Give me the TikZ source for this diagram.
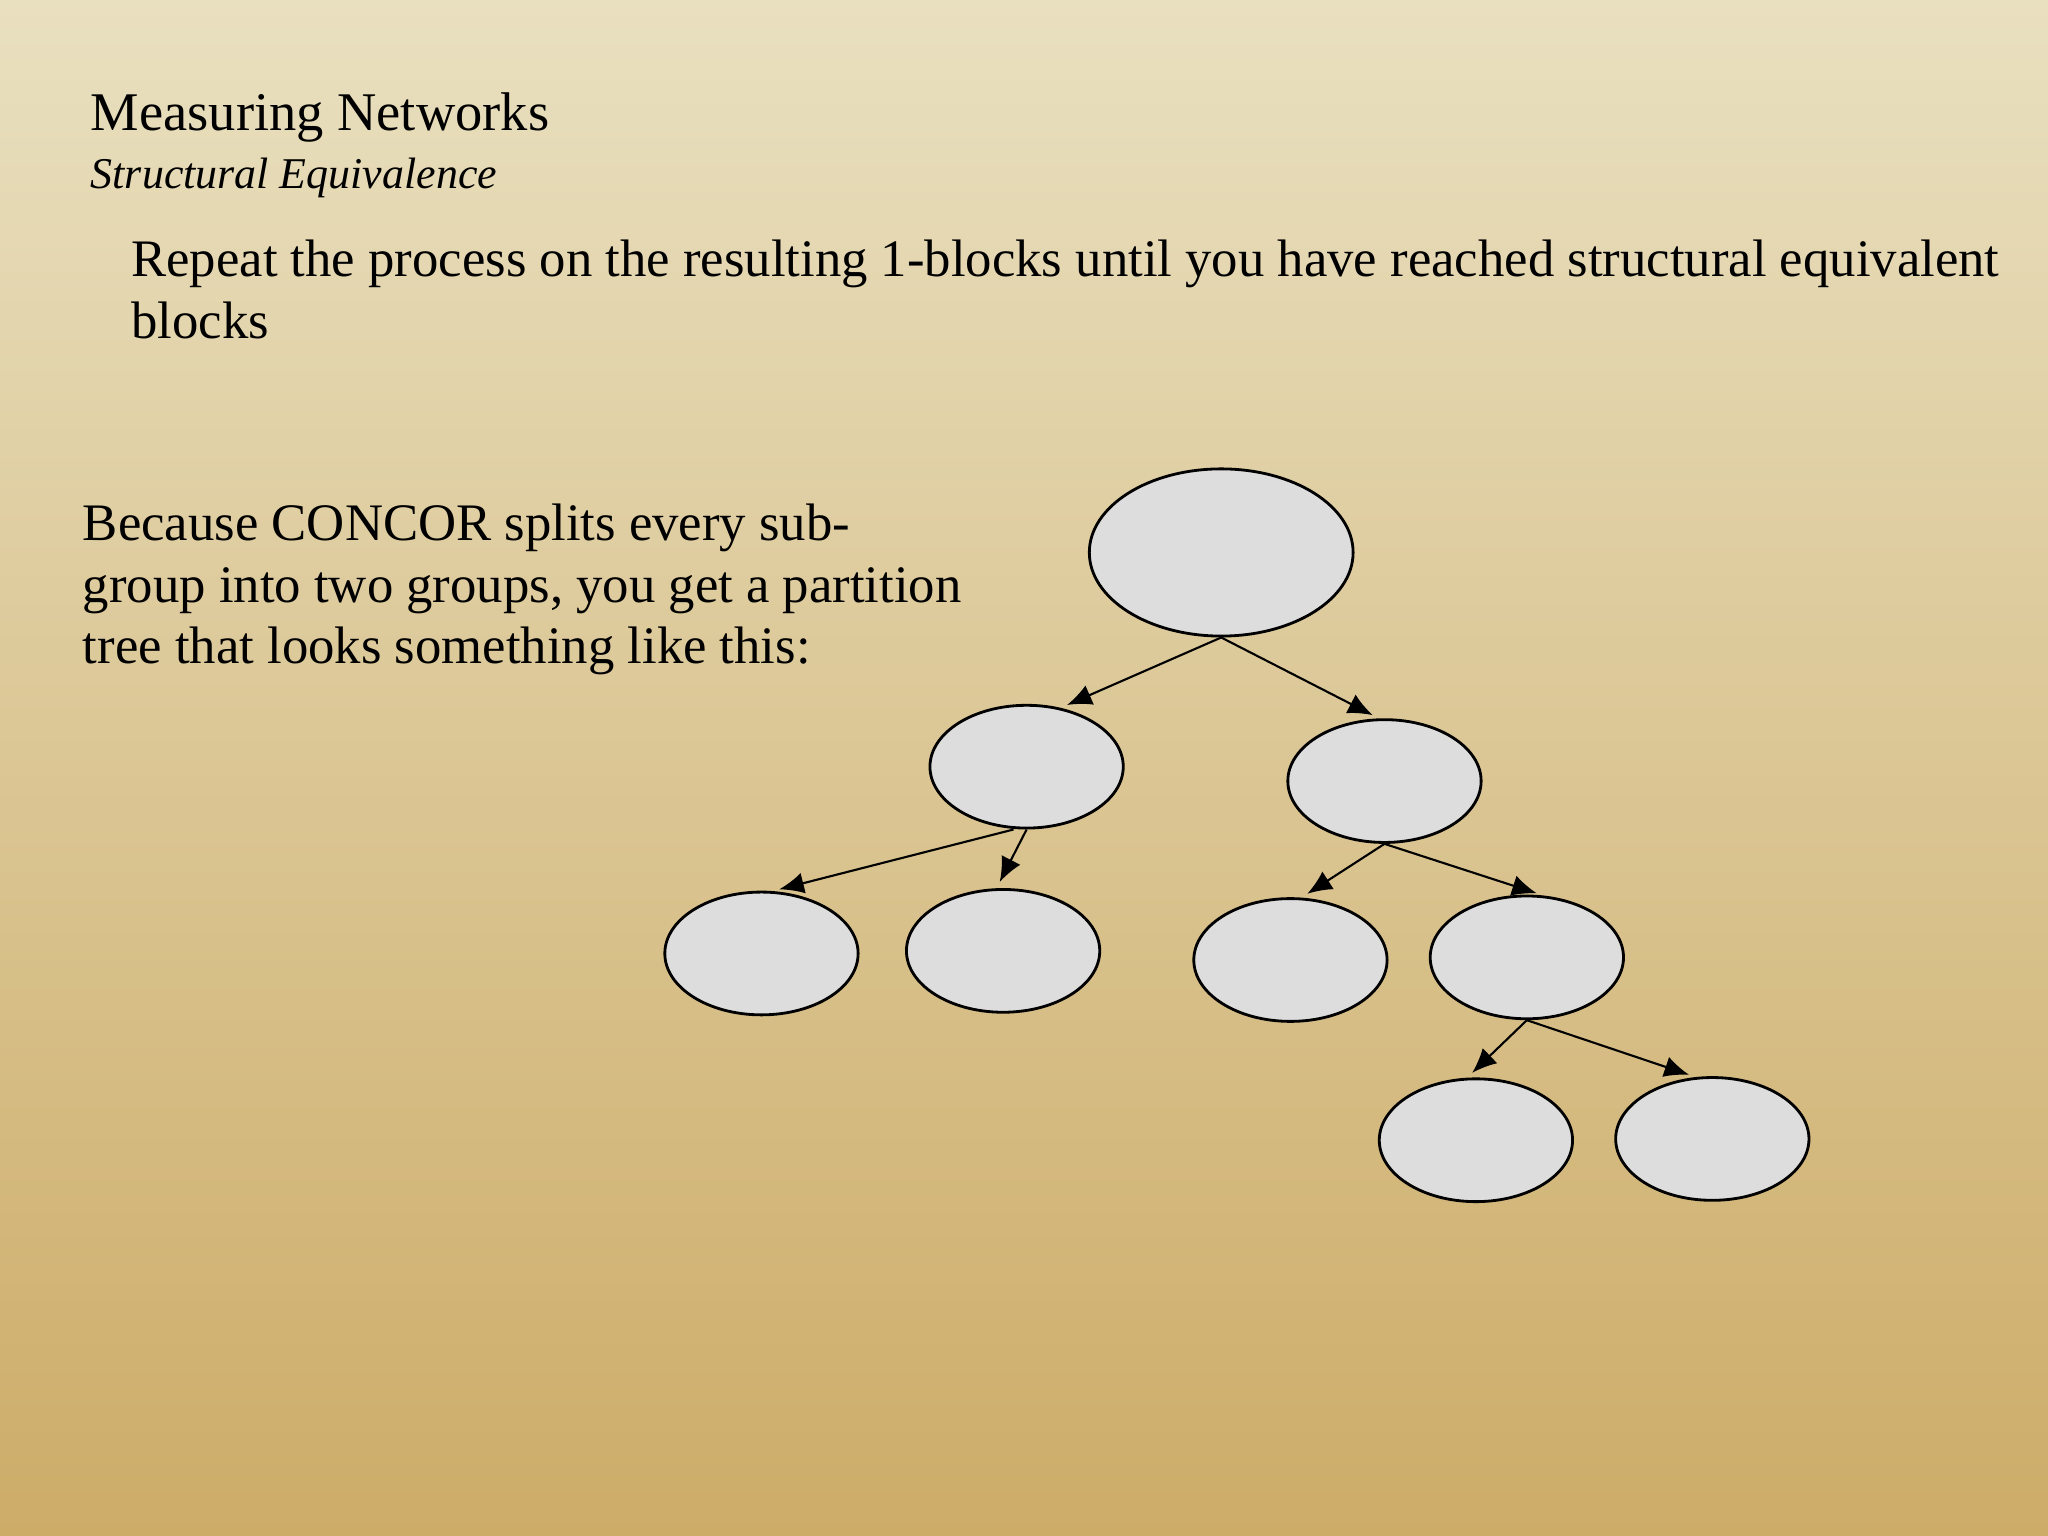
\documentclass[tikz,border=0pt]{standalone}
\usepackage{fontspec}
\setmainfont{Liberation Serif}
\usetikzlibrary{shapes.geometric,arrows.meta}
\definecolor{bgtop}{HTML}{E9E0C0}
\definecolor{bgbot}{HTML}{CDAC68}
\definecolor{ellfill}{HTML}{DEDDDD}
\begin{document}
\begin{tikzpicture}[x=0.013061cm,y=-0.013061cm,
  blob/.style={ellipse,draw=black,line width=0.8pt,fill=ellfill,minimum width=148\pgflinewidth*0+1.933cm,minimum height=1.228cm,inner sep=0pt},
  big/.style={blob,minimum width=2.638cm,minimum height=1.672cm},
  conn/.style={-{Latex[length=7pt,width=6pt]},line width=0.6pt,shorten >=2pt}]
\shade[top color=bgtop,bottom color=bgbot] (0,0) rectangle (1568,1176);
\useasboundingbox (0,0) rectangle (1568,1176);
\node[anchor=base west,font=\fontsize{15.5}{18}\selectfont] (title) at (60,100) {Measuring Networks};
\node[anchor=base west,font=\fontsize{12.5}{15}\selectfont\itshape] (sub) at (60,144) {Structural Equivalence};
\node[anchor=base west,font=\fontsize{15}{18}\selectfont] (l1) at (91,212) {Repeat the process on the resulting 1-blocks until you have reached structural equivalent};
\node[anchor=base west,font=\fontsize{15}{18}\selectfont] (l2) at (91,259) {blocks};
\node[anchor=base west,font=\fontsize{15}{18}\selectfont] (b1) at (54,414) {Because CONCOR splits every sub-};
\node[anchor=base west,font=\fontsize{15}{18}\selectfont] (b2) at (54,461) {group into two groups, you get a partition};
\node[anchor=base west,font=\fontsize{15}{18}\selectfont] (b3) at (54,508) {tree that looks something like this:};
\node[big] (r) at (935,423) {};
\node[blob] (a) at (786,587) {};
\node[blob] (b) at (1060,598) {};
\node[blob] (a1) at (583,730) {};
\node[blob] (a2) at (768,728) {};
\node[blob] (b1e) at (988,735) {};
\node[blob] (b2e) at (1169,733) {};
\node[blob] (c1) at (1130,873) {};
\node[blob] (c2) at (1311,872) {};
\draw[conn] (r.south) -- (a.60);
\draw[conn] (r.south) -- (b.95);
\draw[conn] ([xshift=-10*0.013061cm]a.south) -- (a1.80);
\draw[conn] (a.south) -- (a2.96);
\draw[conn] (b.south) -- (b1e.80);
\draw[conn] (b.south) -- (b2e.75);
\draw[conn] (b2e.south) -- (c1.98);
\draw[conn] (b2e.south) -- (c2.105);
\end{tikzpicture}
\end{document}
